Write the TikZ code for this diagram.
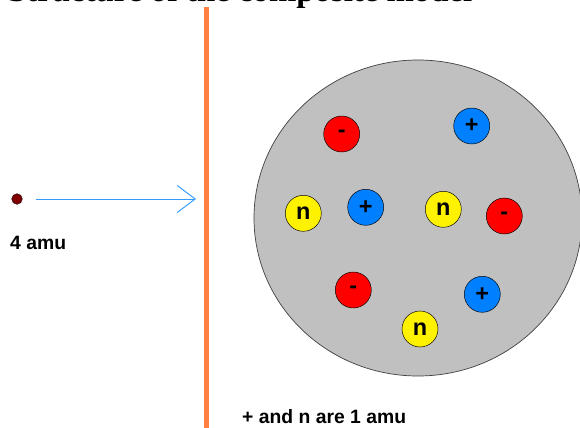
\documentclass[tikz,border=0pt]{standalone}
\usepackage{fontspec}
\setmainfont{Liberation Sans}
\newfontfamily\titlefont{Liberation Serif}
\usetikzlibrary{arrows.meta}

\definecolor{foil}{HTML}{FF8040}
\definecolor{ray}{HTML}{3399FF}
\definecolor{atomgray}{HTML}{C0C0C0}
\definecolor{pblue}{HTML}{0080FF}
\definecolor{alphared}{HTML}{800000}

\begin{document}
\begin{tikzpicture}[
  x=0.03cm, y=-0.03cm,
  particle/.style={circle, draw=black, thin, minimum size=1.08cm, inner sep=0pt, font=\bfseries\fontsize{20}{20}\selectfont},
  electron/.style={particle, fill=red},
  proton/.style={particle, fill=pblue},
  neutron/.style={particle, fill=yellow},
  label/.style={font=\bfseries\fontsize{16.5}{16.5}\selectfont, inner sep=0pt},
  arrow/.style={-{Straight Barb[length=5.4mm, width=8.1mm]}, draw=ray, line width=0.8pt}
]
\useasboundingbox (0,0) rectangle (580,428);
\clip (0,0) rectangle (580,428);

% heading, cut off at the top edge
\node[anchor=base west, inner sep=0pt, font=\titlefont\bfseries\fontsize{28}{28}\selectfont] (title) at (8,1.3) {Structure of the composite model};

% gold foil
\draw[foil, line width=4pt] (206.5,7) -- (206.5,428);

% alpha particle and its path
\node[circle, fill=alphared, draw=black, line width=0.3pt, minimum size=0.32cm, inner sep=0pt] (alpha) at (17,199) {};
\node[label, anchor=base west] (mass) at (10,250) {4 amu};
\coordinate (hit) at (196,199);
\draw[arrow, shorten <=0.39cm] (alpha) -- (hit);

% the atom
\draw[fill=atomgray, draw=black!75, line width=0.6pt] (418,218) ellipse [x radius=4.92cm, y radius=4.74cm];

\node[electron] (e1) at (341.7,134) {-};
\node[electron] (e2) at (504.3,216) {-};
\node[electron] (e3) at (353.3,290) {-};
\node[proton] (p1) at (471.7,126) {+};
\node[proton] (p2) at (365.7,207.3) {+};
\node[proton] (p3) at (482.3,294.3) {+};
\node[neutron] (n1) at (303.3,213.3) {n};
\node[neutron] (n2) at (443.3,209.3) {n};
\node[neutron] (n3) at (420,329) {n};

\node[label, anchor=base west] (note) at (242,424) {+ and n are 1 amu};
\end{tikzpicture}
\end{document}
